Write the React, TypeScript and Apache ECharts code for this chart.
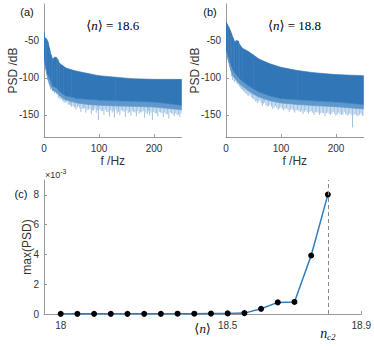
import React, { useEffect, useRef } from "react";
import * as echarts from "echarts";

// Panel (a): <n> = 18.6 — spectrum envelopes (dB)
const freqA = [0, 1, 3, 5, 7, 10, 13, 16, 19, 22, 25, 28, 35, 40, 50, 60, 80, 100, 130, 160, 200, 250];
const upperA = [-38, -45, -46, -48, -51, -60, -69, -75, -72, -72, -75, -80, -84, -86.6, -89, -91, -94, -97, -99, -101, -102, -102];
const lowerA = [-73, -76, -82, -88, -95, -100, -104, -111, -112, -113, -115, -118, -122, -124.5, -126, -128, -129, -130, -131, -131.5, -132.5, -137];
const fuzzA = [-78, -82, -88, -95, -102, -108, -112, -117, -118, -119, -121, -124, -128, -130, -132, -134, -136, -137, -138, -138.5, -139.5, -143];
const spikesA: number[][] = [
  [3, -88], [6, -98], [9, -108], [11, -113], [12, -116], [14, -112], [17, -117], [21, -118], [24, -122], [27, -125],
  [31, -128], [34, -131], [38, -133], [42, -131], [46, -136], [50, -139], [55, -140], [58, -143], [63, -138], [67, -146],
  [72, -141], [76, -147], [81, -143], [86, -149], [90, -144], [95, -147], [99, -157], [104, -145], [109, -150], [114, -146],
  [119, -152], [124, -147], [128, -154], [133, -148], [138, -150], [143, -145], [148, -153], [153, -148], [158, -151], [163, -146],
  [168, -152], [173, -149], [178, -147], [183, -154], [188, -149], [192, -151], [197, -157], [202, -148], [207, -152], [212, -147],
  [217, -153], [222, -149], [227, -155], [232, -148], [237, -152], [242, -150], [247, -153],
  [2, -84], [5, -94], [8, -104], [10, -110], [13, -114], [15.5, -118], [19, -121], [22.5, -122], [26, -127], [29, -129],
  [33, -130], [36, -133], [40, -134], [44, -136], [48, -137], [52.5, -138], [56.5, -139], [61, -140], [65, -141], [69.5, -142],
  [74, -141], [78.5, -143], [83.5, -142], [88, -144], [92.5, -142], [97, -144], [101.5, -143], [106.5, -145], [111.5, -143], [116.5, -146],
  [121.5, -144], [126, -145], [131, -143], [135.5, -146], [140.5, -144], [145.5, -146], [150.5, -144], [155.5, -146], [160.5, -145], [165.5, -147],
  [170.5, -145], [175.5, -146], [180.5, -145], [185.5, -147], [190, -145], [194.5, -147], [199.5, -146], [204.5, -148], [209.5, -146], [214.5, -148],
  [219.5, -147], [224.5, -149], [229.5, -147], [234.5, -149], [239.5, -148], [244.5, -150], [249, -148],
];

// Panel (b): <n> = 18.8
const freqB = [0, 2, 5, 8, 10, 13, 16, 19, 22, 25, 30, 40, 50, 60, 80, 100, 130, 160, 200, 250];
const upperB = [-24, -27, -31, -36, -40, -46, -51, -49.5, -50, -55, -60, -64, -69, -74.5, -81, -85.7, -90, -93, -95.5, -97];
const lowerB = [-60, -65, -71, -79, -84, -89, -93, -96, -98, -101, -104.5, -110, -115, -119, -124.5, -128, -129.5, -131, -132.6, -136];
const fuzzB = [-66, -72, -79, -87, -92, -97, -100, -103, -105, -108, -111, -117, -122, -126, -131, -134, -136, -137.5, -139, -142];
const spikesB: number[][] = [
  [4, -75], [7, -85], [10, -98], [12, -103], [15, -106], [18, -104], [21, -108], [25, -112], [28, -115], [32, -118],
  [36, -121], [40, -125], [44, -122], [48, -128], [53, -132], [57, -134], [62, -131], [66, -138], [70, -133], [75, -139],
  [80, -136], [85, -142], [90, -138], [95, -143], [100, -140], [105, -144], [110, -141], [115, -146], [120, -142], [125, -147],
  [130, -143], [135, -146], [140, -149], [145, -144], [150, -148], [155, -145], [160, -150], [165, -146], [170, -150], [175, -147],
  [180, -152], [185, -147], [190, -150], [195, -146], [200, -151], [205, -147], [210, -150], [215, -146], [220, -151], [225, -148],
  [230, -167], [235, -149], [240, -152], [245, -148], [249, -151],
  [2, -70], [5.5, -80], [8.5, -91], [11, -97], [13.5, -100], [16.5, -104], [19.5, -107], [23, -110], [26.5, -113], [30, -116],
  [34, -119], [38, -122], [42, -124], [46, -126], [50.5, -129], [55, -131], [59.5, -132], [64, -134], [68, -135], [72.5, -137],
  [77.5, -138], [82.5, -139], [87.5, -140], [92.5, -141], [97.5, -141], [102.5, -142], [107.5, -142], [112.5, -143], [117.5, -143], [122.5, -144],
  [127.5, -144], [132.5, -145], [137.5, -145], [142.5, -146], [147.5, -146], [152.5, -146], [157.5, -147], [162.5, -147], [167.5, -147], [172.5, -148],
  [177.5, -148], [182.5, -148], [187.5, -149], [192.5, -148], [197.5, -149], [202.5, -149], [207.5, -149], [212.5, -150], [217.5, -149], [222.5, -150],
  [227.5, -150], [232.5, -150], [237.5, -151], [242.5, -150], [247.5, -151],
];

// Panel (c): max(PSD) (x10^-3) vs <n>
const nValues = [18, 18.05, 18.1, 18.15, 18.2, 18.25, 18.3, 18.35, 18.4, 18.45, 18.5, 18.55, 18.6, 18.65, 18.7, 18.75, 18.8];
const maxPsd = [0.01, 0.01, 0.01, 0.01, 0.01, 0.01, 0.01, 0.02, 0.02, 0.03, 0.04, 0.06, 0.35, 0.78, 0.81, 3.93, 8.02];
const nc2 = 18.8;

const psdTicks = [-150, -100, -50];
const freqTicks = [0, 100, 200];
const nTicks = [18, 18.5, 18.8, 18.9];
const maxTicks = [0, 2, 4, 6, 8];

const SANS = "'Liberation Sans', Arial, Helvetica, sans-serif";
const SERIF = "'Liberation Serif', 'DejaVu Serif', 'Times New Roman', serif";
const BLUE = "#3177b8";
const FUZZ = "#5f98cc";
const LIGHT = "#95badf";
const AXIS = "#9a9a9a";
const TXT = "#333333";

function interp(xs: number[], ys: number[], x: number) {
  for (let i = 0; i < xs.length - 1; i++) {
    if (x >= xs[i] && x <= xs[i + 1]) {
      const t = (x - xs[i]) / (xs[i + 1] - xs[i]);
      return ys[i] + t * (ys[i + 1] - ys[i]);
    }
  }
  return ys[ys.length - 1];
}

function specAxes(grid: number) {
  return {
    x: {
      type: "value", gridIndex: grid, min: 0, max: 250,
      axisLine: { onZero: false, lineStyle: { color: AXIS } },
      axisTick: { inside: true, length: 3, customValues: freqTicks, lineStyle: { color: AXIS } },
      axisLabel: { customValues: freqTicks, color: TXT, fontSize: 10, fontFamily: SANS, margin: 6 },
      splitLine: { show: false },
      name: "f /Hz", nameLocation: "middle", nameGap: 18, nameMoveOverlap: false,
      nameTextStyle: { fontSize: 12, color: TXT, fontFamily: SANS },
    },
    y: {
      type: "value", gridIndex: grid, min: -180, max: 0,
      axisLine: { onZero: false, lineStyle: { color: AXIS } },
      axisTick: { inside: true, length: 3, customValues: psdTicks, lineStyle: { color: AXIS } },
      axisLabel: { customValues: psdTicks, color: TXT, fontSize: 10, fontFamily: SANS, margin: 5 },
      splitLine: { show: false },
      name: "PSD /dB", nameLocation: "middle", nameGap: 25, nameMoveOverlap: false,
      nameTextStyle: { fontSize: 12, color: TXT, fontFamily: SANS },
    },
  };
}

function bandSeries(axis: number, freq: number[], top: number[], bottom: number[], color: string, z: number) {
  const segments = freq.slice(0, -1).map((f, i) => [f, top[i], bottom[i], freq[i + 1], top[i + 1], bottom[i + 1]]);
  return {
    type: "custom", xAxisIndex: axis, yAxisIndex: axis, clip: true, z,
    data: segments,
    encode: { x: [0, 3], y: [1, 2, 4, 5] },
    renderItem: (_p: any, api: any) => {
      const a = api.coord([api.value(0), api.value(1)]);
      const b = api.coord([api.value(3), api.value(4)]);
      const c = api.coord([api.value(3), api.value(5)]);
      const d = api.coord([api.value(0), api.value(2)]);
      return {
        type: "polygon",
        shape: { points: [a, b, c, d] },
        style: { fill: color, stroke: color, lineWidth: 0.6 },
      };
    },
  };
}

function specSeries(axis: number, freq: number[], upper: number[], lower: number[], fuzz: number[], spikes: number[][]) {
  return [
    {
      type: "custom", xAxisIndex: axis, yAxisIndex: axis, clip: true, z: 1,
      data: spikes,
      encode: { x: 0, y: 1 },
      renderItem: (_p: any, api: any) => {
        const f = api.value(0);
        const v = api.value(1);
        const top = interp(freq, fuzz, f) + 2;
        const p1 = api.coord([f, top]);
        const p2 = api.coord([f, v]);
        return {
          type: "line",
          shape: { x1: p1[0], y1: p1[1], x2: p2[0], y2: p2[1] },
          style: { stroke: LIGHT, lineWidth: 0.9 },
        };
      },
    },
    bandSeries(axis, freq, lower, fuzz, FUZZ, 2),
    bandSeries(axis, freq, upper, lower, BLUE, 3),
  ];
}

export default function App() {
  const ref = useRef<HTMLDivElement>(null);
  useEffect(() => {
    const chart = echarts.init(ref.current!, null, { renderer: "svg" });
    const a = specAxes(0);
    const b = specAxes(1);
    const titleRich = {
      a: { fontFamily: SERIF, fontSize: 13, color: "#111" },
      i: { fontFamily: SERIF, fontSize: 13, fontStyle: "italic", color: "#111" },
    };
    const option: any = {
      animation: false,
      grid: [
        { left: 44, top: 4, width: 137.5, height: 133 },
        { left: 226, top: 4, width: 137.5, height: 133 },
        { left: 44, top: 180, width: 319, height: 134 },
      ],
      xAxis: [
        a.x, b.x,
        {
          type: "value", gridIndex: 2, min: 17.95, max: 18.9,
          axisLine: { onZero: false, lineStyle: { color: AXIS } },
          axisTick: { inside: true, length: 3, customValues: nTicks, lineStyle: { color: AXIS } },
          axisLabel: {
            customValues: nTicks, color: TXT, fontSize: 10, fontFamily: SANS, margin: 6,
            formatter: (v: number) => (Math.abs(v - nc2) < 1e-6 ? "{n|n}{s|c2}" : String(v)),
            rich: {
              n: { fontFamily: SERIF, fontStyle: "italic", fontSize: 14, color: "#111", padding: [6, 0, 0, 0] },
              s: { fontFamily: SERIF, fontStyle: "italic", fontSize: 9, color: "#111", padding: [12, 0, 0, 0] },
            },
          },
          splitLine: { show: false },
          name: "{a|⟨}{i|n}{a|⟩}", nameLocation: "middle", nameGap: 8, nameMoveOverlap: false,
          nameTextStyle: { fontFamily: SERIF, rich: titleRich },
        },
      ],
      yAxis: [
        a.y, b.y,
        {
          type: "value", gridIndex: 2, min: 0, max: 9,
          axisLine: { onZero: false, lineStyle: { color: AXIS } },
          axisTick: { inside: true, length: 3, customValues: maxTicks, lineStyle: { color: AXIS } },
          axisLabel: { customValues: maxTicks, color: TXT, fontSize: 10, fontFamily: SANS, margin: 5 },
          splitLine: { show: false },
          name: "max(PSD)", nameLocation: "middle", nameGap: 11, nameMoveOverlap: false,
          nameTextStyle: { fontSize: 12, color: TXT, fontFamily: SANS },
        },
      ],
      series: [
        ...specSeries(0, freqA, upperA, lowerA, fuzzA, spikesA),
        ...specSeries(1, freqB, upperB, lowerB, fuzzB, spikesB),
        {
          type: "line", xAxisIndex: 2, yAxisIndex: 2,
          data: nValues.map((n, i) => [n, maxPsd[i]]),
          symbol: "circle", symbolSize: 6,
          itemStyle: { color: "#000" },
          lineStyle: { color: "#2f7dc0", width: 1.5 },
          markLine: {
            silent: true, symbol: "none", label: { show: false },
            lineStyle: { type: [4, 3], color: "#888", width: 1 },
            data: [{ xAxis: nc2 }],
          },
        },
      ],
      graphic: [
        { type: "text", x: 27, y: 12, style: { text: "(a)", fontSize: 11, fontFamily: SANS, fill: "#111", align: "center", verticalAlign: "middle" } },
        { type: "text", x: 210, y: 12, style: { text: "(b)", fontSize: 11, fontFamily: SANS, fill: "#111", align: "center", verticalAlign: "middle" } },
        { type: "text", x: 21, y: 194, style: { text: "(c)", fontSize: 11, fontFamily: SANS, fill: "#111", align: "center", verticalAlign: "middle" } },
        { type: "text", x: 112.75, y: 25, style: { text: "{a|⟨}{i|n}{a|⟩ = 18.6}", fontFamily: SERIF, fontSize: 13, rich: titleRich, align: "center", verticalAlign: "middle" } },
        { type: "text", x: 294.5, y: 25, style: { text: "{a|⟨}{i|n}{a|⟩ = 18.8}", fontFamily: SERIF, fontSize: 13, rich: titleRich, align: "center", verticalAlign: "middle" } },
        {
          type: "text", x: 45, y: 175,
          style: {
            text: "×10{s|-3}", fontSize: 9, fontFamily: SANS, fill: TXT, align: "left", verticalAlign: "middle",
            rich: { s: { fontSize: 7, fontFamily: SANS, color: TXT, padding: [0, 0, 7, 0] } },
          },
        },
      ],
    };
    chart.setOption(option);
    return () => chart.dispose();
  }, []);
  return <div ref={ref} style={{ position: "absolute", left: 0, top: 0, width: 374, height: 350 }} />;
}
